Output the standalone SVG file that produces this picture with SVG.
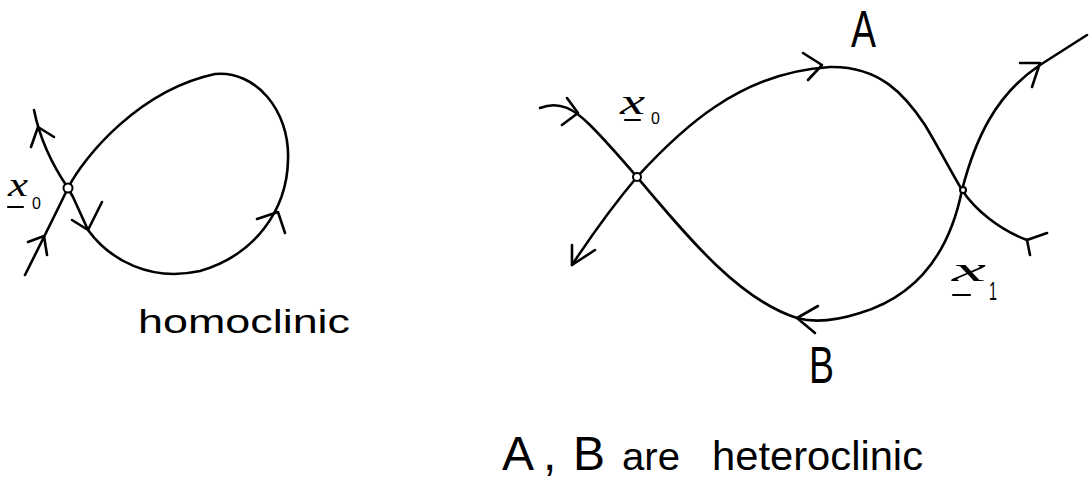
<svg xmlns="http://www.w3.org/2000/svg" width="1089" height="479" viewBox="0 0 1089 479">
<style>
.c{fill:none;stroke:#000;stroke-width:2.6;stroke-linecap:round;stroke-linejoin:round}
.ah{fill:none;stroke:#000;stroke-width:2.6;stroke-linecap:round;stroke-linejoin:round}
.n{fill:#fff;stroke:#000;stroke-width:2}
.t{font-family:"Liberation Sans",Arial,sans-serif;fill:#000}
.v{font-family:"Liberation Serif","Times New Roman",serif;font-style:italic;fill:#000}
.u{stroke:#000;stroke-width:2.2;stroke-linecap:round}
</style>
<rect width="1089" height="479" fill="#fff"/>
<g id="connectors">
<path class="c" d="M68,188 C85,155 140,90 215,74 C255,70 290,110 288,160 C287,210 255,255 200,271 C150,282 110,260 88,230 L73,197 L68,188"/>
<path class="c" d="M34,110 Q42,150 68,188 Q55,215 25,275"/>
<polyline class="ah" points="31,147 38,127 54,137"/>
<polyline class="ah" points="28,242 44,236 47,255"/>
<polyline class="ah" points="72,220 88,230 102,202"/>
<polyline class="ah" points="257,219 278,212 285,233"/>
<path class="c" d="M540,108 C560,100 575,110 590,125 S625,163 637,177"/>
<path class="c" d="M637,177 Q605,215 572,265"/>
<path class="c" d="M637,177 C680,130 740,72 830,67 C880,66 905,95 925,125 C940,150 950,170 962,190"/>
<path class="c" d="M962,190 C950,250 920,295 860,313 C835,321 815,323 797,318 C740,300 690,240 637,177"/>
<path class="c" d="M962,190 C975,140 995,95 1040,65 L1087,35"/>
<path class="c" d="M962,190 C975,210 1000,230 1027,240"/>
<polyline class="ah" points="567,98 578,113 562,125"/>
<polyline class="ah" points="572,245 572,265 595,250"/>
<polyline class="ah" points="803,53 822,65 808,80"/>
<polyline class="ah" points="1020,63 1040,63 1032,87"/>
<polyline class="ah" points="1047,233 1027,240 1030,255"/>
<polyline class="ah" points="818,306 797,318 815,333"/>
</g>
<g id="node-x0-left">
<circle class="n" cx="68" cy="188" r="4.5"/>
<text class="v" x="8" y="196" font-size="34" textLength="20" lengthAdjust="spacingAndGlyphs">x</text>
<line class="u" x1="8" y1="207" x2="23" y2="207"/>
<text class="t" x="32" y="209" font-size="16">0</text>
</g>
<g id="node-x0-right">
<circle class="n" cx="637" cy="177" r="4"/>
<text class="v" x="620" y="114" font-size="36" textLength="25" lengthAdjust="spacingAndGlyphs">x</text>
<line class="u" x1="625" y1="120" x2="640" y2="120"/>
<text class="t" x="651" y="124" font-size="16">0</text>
</g>
<g id="node-x1">
<circle class="n" cx="963" cy="190" r="3"/>
<text class="v" x="952" y="281" font-size="34" textLength="34" lengthAdjust="spacingAndGlyphs">x</text>
<line class="u" x1="953" y1="295" x2="970" y2="295"/>
<text class="t" x="989" y="300" font-size="26" textLength="8" lengthAdjust="spacingAndGlyphs">1</text>
</g>
<g id="label-A"><text class="t" x="851" y="47" font-size="52" textLength="25" lengthAdjust="spacingAndGlyphs">A</text></g>
<g id="label-B"><text class="t" x="809" y="383" font-size="52" textLength="25" lengthAdjust="spacingAndGlyphs">B</text></g>
<g id="label-homoclinic"><text class="t" x="138" y="333" font-size="34" textLength="212" lengthAdjust="spacingAndGlyphs">homoclinic</text></g>
<g id="label-heteroclinic">
<text class="t" y="470" font-size="48"><tspan x="502">A</tspan><tspan x="543">,</tspan><tspan x="573">B</tspan><tspan x="622" font-size="38" textLength="58" lengthAdjust="spacingAndGlyphs">are</tspan><tspan x="712" font-size="40" textLength="211" lengthAdjust="spacingAndGlyphs">heteroclinic</tspan></text>
</g>
</svg>
